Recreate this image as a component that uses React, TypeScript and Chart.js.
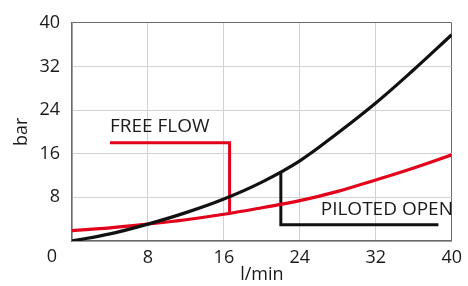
import React, { useEffect, useRef } from "react";
import { Chart, registerables } from "chart.js";

Chart.register(...registerables);

// Flow (l/min) vs pressure (bar)
const flowX = [0, 4, 8, 12, 16, 20, 24, 28, 32, 36, 40];
const pilotedCurve = [0, 1.3, 3.1, 5.2, 7.7, 10.8, 14.7, 19.8, 25.3, 31.4, 37.8];
const freeCurve = [1.9, 2.4, 3.1, 3.9, 4.9, 6.1, 7.4, 9.1, 11.2, 13.4, 15.8];

// legend-like annotation leaders
const freeLeaderX = [4, 16.6, 16.6];
const freeLeaderY = [18, 18, 5.3];
const pilotLeaderX = [22, 22, 38.6];
const pilotLeaderY = [12.6, 3.0, 3.0];

const annotationTexts = ["FREE FLOW", "PILOTED OPEN"];
const annotationX = [4, 26.2];
const annotationY = [21, 5.8];

const xTicks = [0, 8, 16, 24, 32, 40];
const yTicks = [0, 8, 16, 24, 32, 40];
const xTitle = "l/min";
const yTitle = "bar";
const cornerLabel = "0";

const RED = "#e2001a";
const BLACK = "#111111";
const FONT = "'Open Sans', sans-serif";

const pts = (xs: number[], ys: number[]) => xs.map((x, i) => ({ x, y: ys[i] }));

const textPlugin = {
  id: "textPlugin",
  afterDraw(chart: any) {
    const { ctx, scales } = chart;
    const xs = scales.x;
    const ys = scales.y;
    ctx.save();
    ctx.fillStyle = "#1a1a1a";
    ctx.font = `19px ${FONT}`;
    ctx.textAlign = "left";
    ctx.textBaseline = "middle";
    annotationTexts.forEach((t, i) => {
      ctx.fillText(t, xs.getPixelForValue(annotationX[i]), ys.getPixelForValue(annotationY[i]));
    });
    // shared corner zero label
    ctx.font = `18px ${FONT}`;
    ctx.textAlign = "center";
    ctx.fillStyle = "#1a1a1a";
    ctx.fillText(cornerLabel, xs.left - 20, ys.bottom + 15.5);
    ctx.restore();
  },
};

export default function App() {
  const ref = useRef<HTMLCanvasElement | null>(null);
  useEffect(() => {
    if (!ref.current) return;
    const gridColor = (c: any) => (c.tick && c.tick.value === 40 ? "#6a6a6a" : "#d2d2d2");
    const chart = new Chart(ref.current, {
      type: "line",
      data: {
        datasets: [
          {
            data: pts(flowX, pilotedCurve),
            borderColor: BLACK,
            borderWidth: 3.2,
            pointRadius: 0,
            tension: 0.4,
          },
          {
            data: pts(flowX, freeCurve),
            borderColor: RED,
            borderWidth: 3.2,
            pointRadius: 0,
            tension: 0.4,
          },
          {
            data: pts(freeLeaderX, freeLeaderY),
            borderColor: RED,
            borderWidth: 3,
            pointRadius: 0,
            tension: 0,
            borderJoinStyle: "miter",
          },
          {
            data: pts(pilotLeaderX, pilotLeaderY),
            borderColor: BLACK,
            borderWidth: 3,
            pointRadius: 0,
            tension: 0,
            borderJoinStyle: "miter",
          },
        ],
      },
      options: {
        responsive: false,
        animation: false,
        parsing: false as any,
        layout: { padding: { top: 20, right: 13, left: 0, bottom: 0 } },
        plugins: { legend: { display: false }, tooltip: { enabled: false } },
        scales: {
          x: {
            type: "linear",
            min: 0,
            max: 40,
            afterBuildTicks: (s: any) => {
              s.ticks = xTicks.map((v) => ({ value: v }));
            },
            afterFit: (s: any) => {
              s.height = 45;
            },
            ticks: {
              padding: 6,
              color: "#1a1a1a",
              font: { family: FONT, size: 18 },
              maxRotation: 0,
              callback: (v: any) => (v === 0 ? "" : String(v)),
            },
            grid: { color: gridColor, drawTicks: false, lineWidth: 1 },
            border: { color: "#6a6a6a", width: 1.5 },
            title: {
              display: true,
              text: xTitle,
              color: "#1a1a1a",
              font: { family: FONT, size: 18 },
              padding: { top: 9, bottom: 0 },
            },
          },
          y: {
            type: "linear",
            min: 0,
            max: 40,
            afterBuildTicks: (s: any) => {
              s.ticks = yTicks.map((v) => ({ value: v }));
            },
            afterFit: (s: any) => {
              s.width = 72;
            },
            ticks: {
              padding: 12,
              color: "#1a1a1a",
              font: { family: FONT, size: 18 },
              callback: (v: any) => (v === 0 ? "" : String(v)),
            },
            grid: { color: gridColor, drawTicks: false, lineWidth: 1 },
            border: { color: "#6a6a6a", width: 1.5 },
            title: {
              display: true,
              text: yTitle,
              color: "#1a1a1a",
              font: { family: FONT, size: 18 },
              padding: { top: 11, bottom: 0 },
            },
          },
        },
      },
      plugins: [textPlugin],
    });
    return () => chart.destroy();
  }, []);
  return (
    <div style={{ position: "absolute", left: 0, top: 0, width: 468, height: 286, background: "#fff" }}>
      <canvas ref={ref} width={468} height={286} />
    </div>
  );
}
